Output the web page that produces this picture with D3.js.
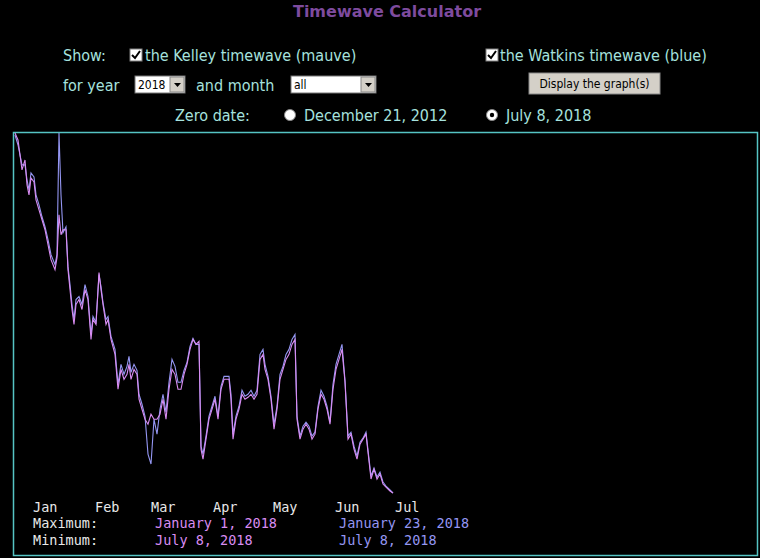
<!DOCTYPE html>
<html><head><meta charset="utf-8">
<script src="https://cdn.jsdelivr.net/npm/d3@7"></script>
<style>body{margin:0;background:#000;overflow:hidden}</style>
</head><body>
<svg id="chart" width="760" height="558"></svg>
<script>
// day offset from Jan 1 2018
var days = [0,1.5,3.5,5,6,7,8,9.5,10.5,12,13.5,15,16.5,18,20,21,22,23,24,25.5,26.5,27.5,28.5,29.5,30.5,32,33.5,35,36.5,38,39,40.5,42,43,44,45.5,46.5,48,50,51.5,53,54.5,56,57,58,59.5,61,62,63.5,65,66.5,68,69.5,71,72.5,74,75.5,77,78.5,80,81.5,83,84.5,86,87.5,89,90.5,92,93,94,95.5,97,98.5,100,101.5,103,104.5,106,107,108,109,110.5,112,113.5,115,116.5,118,119.5,121,122.5,124,125,126.5,128,129.5,131,132.5,134,135.5,137,138.5,140,141,142.5,144,145.5,147,148.5,150,151.5,153,154.5,156,157.5,159,160.5,162,163.5,165,166.5,168,169.5,171,172.5,174,175.5,176.5,178,179.5,181,182.5,184,185.5,187.5,189];
var kelley = [362,355,325,335,310,300,317,313,295,285,275,265,250,235,225,237,280,260,265,265,225,205,185,170,190,195,185,205,195,155,175,170,222,205,190,170,175,155,140,105,125,115,120,130,115,125,120,95,85,75,70,80,75,75,80,95,75,105,125,120,105,105,120,130,145,155,150,153,45,35,55,75,85,95,75,105,115,115,115,95,55,75,85,100,95,97,100,95,100,135,140,125,115,95,65,85,115,125,135,140,150,155,75,55,65,70,65,55,60,85,100,95,85,70,105,125,135,145,112,55,60,45,35,50,55,60,42,15,25,15,20,10,7,3,1];
var watkins = [360,350,330,330,315,305,322,318,300,290,278,268,255,240,230,240,362,300,262,268,228,210,190,175,195,198,190,210,198,160,178,172,220,208,192,175,178,158,145,110,130,120,128,138,122,130,124,100,90,78,40,30,75,60,85,100,82,112,135,128,112,112,124,132,148,156,150,150,48,40,58,78,88,98,78,108,118,118,118,100,60,78,88,104,98,100,104,98,104,140,145,130,118,98,70,88,120,128,140,145,155,160,78,58,68,72,68,58,62,88,104,98,88,72,110,130,140,150,114,58,62,48,38,52,56,62,44,18,26,17,22,12,8,4,1];
var months = ["Jan","Feb","Mar","Apr","May","Jun","Jul"];
var maxLabels = ["January 1, 2018","January 23, 2018"];
var minLabels = ["July 8, 2018","July 8, 2018"];

var svg = d3.select("#chart");
var formFont = "'DejaVu Sans Condensed','DejaVu Sans',sans-serif";
var cyanText = "#a6e2de", mauve = "#d98cf2", blue = "#9496f2";

svg.append("text").attr("x", 387).attr("y", 17).attr("text-anchor", "middle")
  .attr("font-family", "Verdana,'DejaVu Sans',sans-serif").attr("font-weight", "bold")
  .attr("font-size", 16).attr("fill", "#7e4b9e").text("Timewave Calculator");

function label(x, y, t) {
  svg.append("text").attr("x", x).attr("y", y).attr("font-family", formFont)
    .attr("font-size", 16).attr("fill", cyanText).text(t);
}
function checkbox(x, y) {
  svg.append("rect").attr("x", x).attr("y", y).attr("width", 12).attr("height", 12)
    .attr("fill", "#fff").attr("stroke", "#808080");
  svg.append("path").attr("d", "M" + (x+2) + "," + (y+6) + " l3,3 l5,-7")
    .attr("stroke", "#000").attr("stroke-width", 2).attr("fill", "none");
}
function select(x, y, w, t) {
  svg.append("rect").attr("x", x).attr("y", y).attr("width", w).attr("height", 17)
    .attr("fill", "#fff").attr("stroke", "#777");
  svg.append("rect").attr("x", x + w - 15).attr("y", y + 1).attr("width", 14).attr("height", 15)
    .attr("fill", "#d4d0c8").attr("stroke", "#888");
  svg.append("path").attr("d", "M" + (x+w-11) + "," + (y+7) + " h7 l-3.5,4 z").attr("fill", "#000");
  svg.append("text").attr("x", x + 3).attr("y", y + 13).attr("font-family", formFont)
    .attr("font-size", 12).attr("fill", "#000").text(t);
}
function radio(x, y, on) {
  svg.append("circle").attr("cx", x).attr("cy", y).attr("r", 5.5).attr("fill", "#fff").attr("stroke", "#888");
  if (on) svg.append("circle").attr("cx", x).attr("cy", y).attr("r", 2.2).attr("fill", "#000");
}

label(63, 61, "Show:");
checkbox(130, 49);
label(145, 61, "the Kelley timewave (mauve)");
checkbox(486, 49);
label(500, 61, "the Watkins timewave (blue)");
label(63, 91, "for year");
select(135, 76, 50, "2018");
label(196, 91, "and month");
select(291, 76, 85, "all");
svg.append("rect").attr("x", 529).attr("y", 73).attr("width", 131).attr("height", 21)
  .attr("fill", "#d4d0c8").attr("stroke", "#888");
svg.append("text").attr("x", 594.5).attr("y", 88).attr("text-anchor", "middle")
  .attr("font-family", formFont).attr("font-size", 12).attr("fill", "#000").text("Display the graph(s)");
label(175, 121, "Zero date:");
radio(290, 115, false);
label(304, 121, "December 21, 2012");
radio(492, 115, true);
label(506, 121, "July 8, 2018");

// graph panel
svg.append("rect").attr("x", 13.5).attr("y", 132.5).attr("width", 744).attr("height", 423)
  .attr("fill", "#000").attr("stroke", "#55c4c4").attr("stroke-width", 1.5);

var t0 = new Date(2018, 0, 1);
var x = d3.scaleTime().domain([t0, d3.timeDay.offset(t0, 189)]).range([15, 393]);
var y = d3.scaleLinear().domain([0, 362]).range([494, 133]);
function dayDate(d) { return new Date(t0.getTime() + d * 864e5); }

var line = d3.line().x(function(d, i) { return x(dayDate(days[i])); }).y(function(d) { return y(d); });
svg.append("path").datum(watkins).attr("d", line).attr("fill", "none").attr("stroke", blue).attr("stroke-width", 1.1);
svg.append("path").datum(kelley).attr("d", line).attr("fill", "none").attr("stroke", mauve).attr("stroke-width", 1.1);

var mono = "'DejaVu Sans Mono',monospace";
svg.selectAll(".mon").data(months).enter().append("text")
  .attr("x", function(d, i) { return x(new Date(2018, i, 1)) + 18; }).attr("y", 512)
  .attr("font-family", mono).attr("font-size", 13.5).attr("fill", "#e8e8e8").text(function(d) { return d; });
function mtext(xp, yp, t, c) {
  svg.append("text").attr("x", xp).attr("y", yp).attr("font-family", mono)
    .attr("font-size", 13.5).attr("fill", c).text(t);
}
mtext(33, 528, "Maximum:", "#e8e8e8");
mtext(33, 545, "Minimum:", "#e8e8e8");
mtext(155, 528, maxLabels[0], mauve);
mtext(339, 528, maxLabels[1], blue);
mtext(155, 545, minLabels[0], mauve);
mtext(339, 545, minLabels[1], blue);
</script>
</body></html>
